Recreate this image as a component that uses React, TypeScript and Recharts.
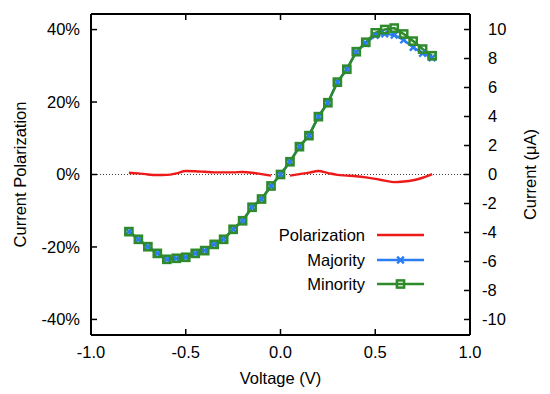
import React from "react";
import { ComposedChart, Line, XAxis, YAxis, ReferenceLine, Legend, Label } from "recharts";

const RED = "#ee1a1a";
const BLUE = "#2b7df2";
const GREEN = "#2e8a2a";
const FONT = '"Liberation Sans", Arial, Helvetica, sans-serif';
const FS = 16.5;

// voltage (V)
const volts = [
  -0.8, -0.75, -0.7, -0.65, -0.6, -0.55, -0.5, -0.45, -0.4, -0.35, -0.3,
  -0.25, -0.2, -0.15, -0.1, -0.05, 0, 0.05, 0.1, 0.15, 0.2, 0.25, 0.3,
  0.35, 0.4, 0.45, 0.5, 0.55, 0.6, 0.65, 0.7, 0.75, 0.8,
];

// current polarization (%), undefined at 0 V
const polarization = [
  0.5, 0.3, 0.0, -0.15, -0.1, 0.3, 0.95, 0.9, 0.75, 0.6, 0.6,
  0.6, 0.7, 0.5, 0.1, -0.3, null, -0.3, 0.1, 0.5, 0.97, 0.4, -0.1,
  -0.3, -0.5, -0.8, -1.2, -1.7, -2.1, -1.95, -1.6, -0.9, 0.1,
];

// majority current (uA)
const majority = [
  -3.94, -4.47, -4.98, -5.44, -5.85, -5.78, -5.71, -5.44, -5.25, -4.82, -4.47,
  -3.78, -3.19, -2.26, -1.69, -0.79, 0, 0.88, 1.92, 2.68, 3.99, 4.95, 6.37,
  7.26, 8.45, 9.05, 9.6, 9.7, 9.62, 9.28, 8.77, 8.36, 8.05,
];

// minority current (uA)
const minority = [
  -3.94, -4.47, -4.98, -5.44, -5.85, -5.78, -5.71, -5.44, -5.25, -4.82, -4.47,
  -3.78, -3.19, -2.26, -1.69, -0.79, 0, 0.88, 1.92, 2.68, 3.99, 4.95, 6.37,
  7.26, 8.47, 9.12, 9.77, 10.0, 10.1, 9.69, 9.2, 8.65, 8.19,
];

const xTicks = [-1, -0.5, 0, 0.5, 1];
const pctTicks = [-40, -20, 0, 20, 40];
const currentTicks = [-10, -8, -6, -4, -2, 0, 2, 4, 6, 8, 10];

const data = volts.map((v, i) => ({
  v,
  pol: polarization[i],
  maj: majority[i],
  min: minority[i],
}));

const SquareDot = (props: any) => {
  const { cx, cy } = props;
  if (cx == null || cy == null) return null;
  return <rect x={cx - 3.6} y={cy - 3.6} width={7.2} height={7.2} fill="none" stroke={GREEN} strokeWidth={2.5} />;
};

const CrossDot = (props: any) => {
  const { cx, cy } = props;
  if (cx == null || cy == null) return null;
  const s = 3.3;
  return (
    <g stroke={BLUE} strokeWidth={2.4}>
      <line x1={cx - s} y1={cy - s} x2={cx + s} y2={cy + s} />
      <line x1={cx - s} y1={cy + s} x2={cx + s} y2={cy - s} />
    </g>
  );
};

const RightTick = (props: any) => {
  const { x, y, payload } = props;
  const v = payload.value;
  return (
    <text x={x + (v >= 0 ? 6 : 0)} y={y} dy="0.36em" textAnchor="start" fontSize={FS} fill="#000">
      {v}
    </text>
  );
};

const legendItems = [
  { name: "Polarization", color: RED, marker: "none" },
  { name: "Majority", color: BLUE, marker: "cross" },
  { name: "Minority", color: GREEN, marker: "square" },
];

const LegendBox = () => (
  <div style={{ fontFamily: FONT, fontSize: FS }}>
    {legendItems.map((it) => (
      <div key={it.name} style={{ display: "flex", alignItems: "center", height: 24.5 }}>
        <span style={{ width: 100, textAlign: "right", lineHeight: "24.5px", color: "#000" }}>{it.name}</span>
        <svg width={47} height={12} style={{ marginLeft: 12 }}>
          <line x1={0} y1={6} x2={47} y2={6} stroke={it.color} strokeWidth={2.4} />
          {it.marker === "cross" && <CrossDot cx={23.5} cy={6} />}
          {it.marker === "square" && <SquareDot cx={23.5} cy={6} />}
        </svg>
      </div>
    ))}
  </div>
);

const axisLine = { stroke: "#000", strokeWidth: 2 };
const tickLine = { stroke: "#000", strokeWidth: 1.5 };

export default function App() {
  return (
    <div style={{ position: "absolute", left: 0, top: 0, width: 550, height: 394, background: "#fff", fontFamily: FONT }}>
      <ComposedChart width={550} height={394} data={data} margin={{ top: 0, right: 10, bottom: 9, left: 11 }}>
        <XAxis
          dataKey="v"
          type="number"
          domain={[-1, 1]}
          ticks={xTicks}
          height={50}
          tickSize={-6}
          tickMargin={17}
          axisLine={axisLine}
          tickLine={tickLine}
          tick={{ fill: "#000", fontSize: FS }}
          tickFormatter={(v: number) => v.toFixed(1)}
        >
          <Label
            content={(p: any) => {
              const vb = p.viewBox;
              return (
                <text x={vb.x + vb.width / 2} y={vb.y + 49} textAnchor="middle" fontSize={FS} fill="#000">
                  Voltage (V)
                </text>
              );
            }}
          />
        </XAxis>
        <XAxis
          xAxisId="top"
          dataKey="v"
          orientation="top"
          type="number"
          domain={[-1, 1]}
          ticks={xTicks}
          height={14}
          tickSize={-6}
          axisLine={axisLine}
          tickLine={tickLine}
          tickFormatter={() => ""}
        />
        <YAxis
          yAxisId="pct"
          orientation="left"
          type="number"
          domain={[-44.3, 44.3]}
          ticks={pctTicks}
          width={80}
          tickSize={-6}
          tickMargin={17}
          axisLine={axisLine}
          tickLine={tickLine}
          tick={{ fill: "#000", fontSize: FS }}
          tickFormatter={(v: number) => `${v}%`}
        >
          <Label
            content={(p: any) => {
              const vb = p.viewBox;
              const cx = vb.x + 9;
              const cy = vb.y + vb.height / 2;
              return (
                <text x={cx} y={cy} transform={`rotate(-90 ${cx} ${cy})`} textAnchor="middle" dominantBaseline="central" fontSize={FS} fill="#000">
                  Current Polarization
                </text>
              );
            }}
          />
        </YAxis>
        <YAxis
          yAxisId="ua"
          orientation="right"
          type="number"
          domain={[-11.07, 11.07]}
          ticks={currentTicks}
          width={70}
          tickSize={-6}
          tickMargin={18}
          axisLine={axisLine}
          tickLine={tickLine}
          tick={<RightTick />}
        >
          <Label
            content={(p: any) => {
              const vb = p.viewBox;
              const cx = vb.x + 60;
              const cy = vb.y + vb.height / 2;
              return (
                <text x={cx} y={cy} transform={`rotate(-90 ${cx} ${cy})`} textAnchor="middle" dominantBaseline="central" fontSize={FS} fill="#000">
                  Current (μA)
                </text>
              );
            }}
          />
        </YAxis>
        <ReferenceLine yAxisId="pct" y={0} stroke="#444" strokeWidth={1} strokeDasharray="1 2" />
        <Line
          xAxisId="top"
          yAxisId="pct"
          dataKey="pol"
          type="monotone"
          stroke={RED}
          strokeWidth={2.4}
          dot={false}
          isAnimationActive={false}
        />
        <Line
          yAxisId="ua"
          dataKey="maj"
          type="linear"
          stroke={BLUE}
          strokeWidth={2.4}
          dot={<CrossDot />}
          isAnimationActive={false}
        />
        <Line
          yAxisId="ua"
          dataKey="min"
          type="linear"
          stroke={GREEN}
          strokeWidth={2.6}
          dot={<SquareDot />}
          isAnimationActive={false}
        />
        <Legend
          layout="vertical"
          align="center"
          verticalAlign="middle"
          content={() => <LegendBox />}
          wrapperStyle={{ position: "absolute", left: 265, top: 223, width: 170 }}
        />
      </ComposedChart>
    </div>
  );
}
